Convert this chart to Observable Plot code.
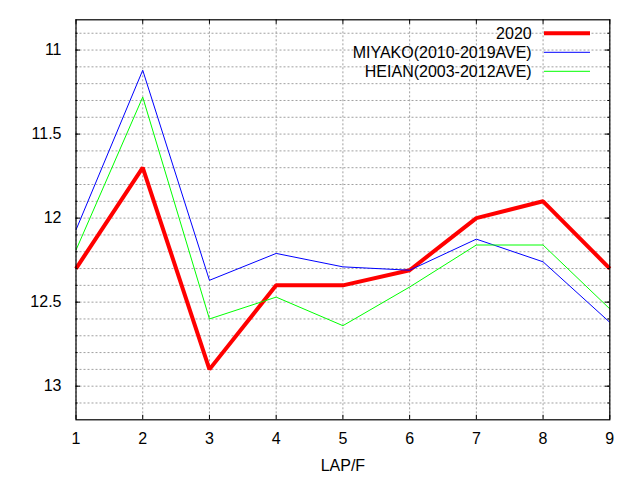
<!DOCTYPE html>
<html><head><meta charset="utf-8">
<script src="https://cdn.jsdelivr.net/npm/d3@7"></script>
<script src="https://cdn.jsdelivr.net/npm/@observablehq/plot@0.6"></script>
<style>body{margin:0;background:#fff}</style>
</head><body><div id="chart"></div>
<script>
const laps = [1, 2, 3, 4, 5, 6, 7, 8, 9];
const series2020 = [12.30, 11.70, 12.90, 12.40, 12.40, 12.31, 12.00, 11.90, 12.30];
const seriesMiyako = [12.07, 11.12, 12.37, 12.21, 12.29, 12.31, 12.125, 12.26, 12.62];
const seriesHeian = [12.19, 11.28, 12.60, 12.47, 12.64, 12.41, 12.16, 12.16, 12.54];
const seriesNames = ["2020", "MIYAKO(2010-2019AVE)", "HEIAN(2003-2012AVE)"];
const seriesColors = ["#ff0000", "#0000ff", "#00ff00"];
const seriesWidths = [4, 1, 1];
const xTicks = [1, 2, 3, 4, 5, 6, 7, 8, 9];
const yMajorTicks = [11, 11.5, 12, 12.5, 13];
const yMinorTicks = [10.9, 11.0, 11.1, 11.2, 11.3, 11.4, 11.5, 11.6, 11.7, 11.8, 11.9, 12.0,
  12.1, 12.2, 12.3, 12.4, 12.5, 12.6, 12.7, 12.8, 12.9, 13.0, 13.1];
const xLabel = "LAP/F";

const allSeries = [series2020, seriesMiyako, seriesHeian];
const rows = allSeries.map((vals, s) => laps.map((lap, i) => ({lap, time: vals[i], series: seriesNames[s]})));

const W = 640, H = 480;
const mL = 75.5, mR = 30.7, mT = 19.3, mB = 60.7;
const fw = W - mL - mR, fh = H - mT - mB;
const font = "'Liberation Sans', Arial, Helvetica, sans-serif";
const fs = 16;
const gridStyle = {stroke: "#a0a0a0", strokeOpacity: 1, strokeWidth: 1, strokeDasharray: "2,2"};

function legend() {
  const g = d3.create("svg:g").attr("font-family", font).attr("font-size", fs);
  seriesNames.forEach((name, i) => {
    const y = 33.3 + i * 19;
    g.append("text").attr("x", 531.7).attr("y", y).attr("dy", "0.35em")
      .attr("text-anchor", "end").attr("fill", "#000").text(name);
    g.append("line").attr("x1", 544).attr("x2", 590).attr("y1", y).attr("y2", y)
      .attr("stroke", seriesColors[i]).attr("stroke-width", seriesWidths[i]);
  });
  return g.node();
}

const chart = Plot.plot({
  width: W, height: H,
  marginLeft: mL, marginRight: mR, marginTop: mT, marginBottom: mB,
  style: {fontFamily: font, fontSize: fs + "px", background: "#fff", color: "#000"},
  x: {domain: [1, 9]},
  y: {domain: [10.82, 13.2], reverse: true},
  marks: [
    Plot.gridX(xTicks, gridStyle),
    Plot.gridY(yMinorTicks, gridStyle),
    ...rows.map((r, s) => Plot.line(r, {x: "lap", y: "time", stroke: seriesColors[s], strokeWidth: seriesWidths[s], strokeLinejoin: "miter", strokeLinecap: "butt"})),
    Plot.tickY(yMinorTicks, {y: d => d, stroke: "#000", insetRight: fw - 2}),
    Plot.tickY(yMinorTicks, {y: d => d, stroke: "#000", insetLeft: fw - 2}),
    Plot.tickY(yMajorTicks, {y: d => d, stroke: "#000", insetRight: fw - 4.5}),
    Plot.tickY(yMajorTicks, {y: d => d, stroke: "#000", insetLeft: fw - 4.5}),
    Plot.tickX(xTicks, {x: d => d, stroke: "#000", insetBottom: fh - 4.5}),
    Plot.tickX(xTicks, {x: d => d, stroke: "#000", insetTop: fh - 4.5}),
    Plot.frame({stroke: "#000", strokeWidth: 1.2}),
    Plot.axisX(xTicks, {tickSize: 0, tickPadding: 12.5, fontSize: fs, label: null, tickFormat: d3.format("d")}),
    Plot.axisY(yMajorTicks, {tickSize: 0, tickPadding: 14.5, fontSize: fs, label: null, tickFormat: d3.format("~g")}),
    Plot.text([xLabel], {text: d => d, frameAnchor: "bottom", dy: 46, lineAnchor: "middle", fontSize: fs, fill: "#000"}),
    legend
  ]
});
document.getElementById("chart").appendChild(chart);
</script>
</body></html>
